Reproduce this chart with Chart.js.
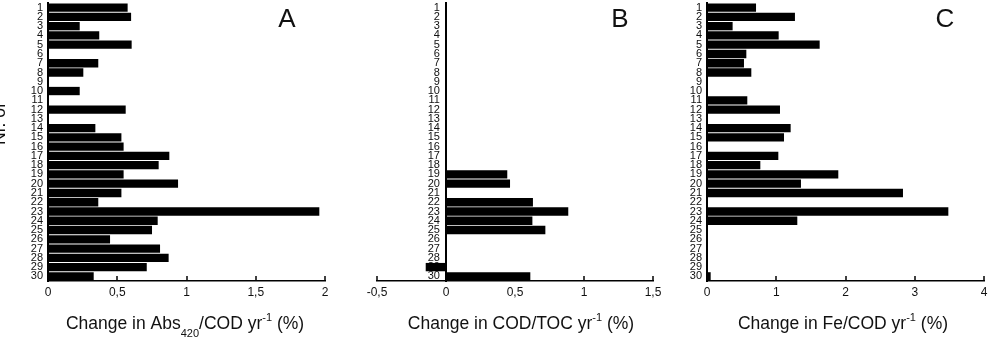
<!DOCTYPE html>
<html><head><meta charset="utf-8">
<script src="https://cdn.jsdelivr.net/npm/chart.js@4.4.0/dist/chart.umd.min.js"></script>
<style>
html,body{margin:0;padding:0;background:#fff;}
#wrap{position:relative;width:989px;height:340px;overflow:hidden;}
canvas{position:absolute;left:0;top:0;}
</style></head><body>
<div id="wrap">
<canvas id="cA" width="989" height="340"></canvas>
<canvas id="cB" width="989" height="340"></canvas>
<canvas id="cC" width="989" height="340"></canvas>
</div>
<script>
// ---- data ----
const categories = ['1','2','3','4','5','6','7','8','9','10','11','12','13','14','15','16','17','18','19','20','21','22','23','24','25','26','27','28','29','30'];
const absCodChange = [0.575,0.60,0.229,0.37,0.604,null,0.363,0.255,null,0.229,null,0.561,null,0.342,0.53,0.546,0.876,0.799,0.546,0.939,0.53,0.363,1.959,0.792,0.751,0.448,0.809,0.871,0.713,0.33];
const codTocChange = [null,null,null,null,null,null,null,null,null,null,null,null,null,null,null,null,null,null,0.444,0.464,null,0.630,0.886,0.626,0.720,null,null,null,-0.147,0.611];
const feCodChange = [0.708,1.27,0.37,1.035,1.627,0.568,0.534,0.64,null,null,0.582,1.054,null,1.208,1.112,null,1.03,0.77,1.896,1.357,2.83,null,3.485,1.304,null,null,null,null,null,0.053];
const panelLetters = ['A','B','C'];
const titleA = [['Change in Abs','n'],['420','sub'],['/COD yr','n'],['-1','sup'],[' (%)','n']];
const titleB = [['Change in COD/TOC yr','n'],['-1','sup'],[' (%)','n']];
const titleC = [['Change in Fe/COD yr','n'],['-1','sup'],[' (%)','n']];
const sideLabel = 'Nr. of';

const FAM = "'Liberation Sans', Arial, Helvetica, sans-serif";
Chart.defaults.font.family = FAM;
Chart.defaults.color = '#111';

const decor = {
  id: 'decor',
  afterDraw(chart, args, o) {
    const ctx = chart.ctx, xs = chart.scales.x, area = chart.chartArea;
    ctx.save();
    // inward tick marks
    ctx.strokeStyle = '#000'; ctx.lineWidth = 1.5;
    xs.ticks.forEach((t, i) => {
      const px = Math.round(xs.getPixelForTick(i));
      ctx.beginPath(); ctx.moveTo(px, area.bottom); ctx.lineTo(px, area.bottom - 5); ctx.stroke();
    });
    // axis title with sub/superscripts
    const mainF = '17.5px ' + FAM, smallF = '11px ' + FAM;
    let w = 0;
    o.title.forEach(([t, k]) => { ctx.font = k === 'n' ? mainF : smallF; w += ctx.measureText(t).width; });
    let x = o.titleX - w / 2;
    ctx.fillStyle = '#111'; ctx.textBaseline = 'alphabetic'; ctx.textAlign = 'left';
    o.title.forEach(([t, k]) => {
      ctx.font = k === 'n' ? mainF : smallF;
      const y = k === 'n' ? 329 : (k === 'sub' ? 337 : 321);
      ctx.fillText(t, x, y);
      x += ctx.measureText(t).width;
    });
    // panel letter
    ctx.font = '26px ' + FAM; ctx.textAlign = 'center'; ctx.textBaseline = 'middle';
    ctx.fillText(o.letter, o.letterX, 20);
    if (o.side) {
      ctx.translate(5, 124); ctx.rotate(-Math.PI / 2);
      ctx.font = '17.5px ' + FAM; ctx.textAlign = 'center'; ctx.textBaseline = 'alphabetic';
      ctx.fillText(o.side, 0, 0);
    }
    ctx.restore();
  }
};

function makeChart(id, values, xmin, xmax, step, pad, yWidth, yPos, title, titleX, letter, letterX, side) {
  const yScale = {
    type: 'category',
    grid: { display: false, drawTicks: false },
    border: { display: true, color: '#000', width: 2 },
    ticks: { autoSkip: false, padding: 5, font: { size: 11 }, color: '#111' },
    afterFit(s) { if (yWidth !== null) s.width = yWidth; s.paddingTop = 0; s.paddingBottom = 0; }
  };
  if (yPos) {
    yScale.position = yPos;
    // labels of an axis placed at x = 0 sit right against the line; keep a small gap
    yScale.ticks.callback = function (v) { return this.getLabelForValue(v) + '  '; };
  }
  return new Chart(document.getElementById(id), {
    type: 'bar',
    data: { labels: categories, datasets: [{ data: values, backgroundColor: '#000', borderWidth: 0, barPercentage: 0.9, categoryPercentage: 1 }] },
    options: {
      indexAxis: 'y', responsive: false, animation: false,
      layout: { padding: pad },
      plugins: { legend: { display: false }, tooltip: { enabled: false },
        decor: { title, titleX, letter, letterX, side } },
      scales: {
        x: {
          type: 'linear', min: xmin, max: xmax,
          grid: { display: false, drawTicks: false },
          border: { display: true, color: '#000', width: 1.5 },
          ticks: { stepSize: step, padding: 4, font: { size: 12 }, color: '#111', autoSkip: false,
            callback: v => String(v).replace('.', ',') },
          afterFit(s) { s.height = 59; s.paddingLeft = 0; s.paddingRight = 0; }
        },
        y: yScale
      }
    },
    plugins: [decor]
  });
}

makeChart('cA', absCodChange, 0, 2, 0.5, { left: 0, right: 664, top: 3, bottom: 0 }, 48, null, titleA, 185, panelLetters[0], 287, sideLabel);
makeChart('cB', codTocChange, -0.5, 1.5, 0.5, { left: 377, right: 336, top: 3, bottom: 0 }, null, { x: 0 }, titleB, 521, panelLetters[1], 620, null);
makeChart('cC', feCodChange, 0, 4, 1, { left: 670, right: 5, top: 3, bottom: 0 }, 37, null, titleC, 843, panelLetters[2], 945, null);
</script>
</body></html>
